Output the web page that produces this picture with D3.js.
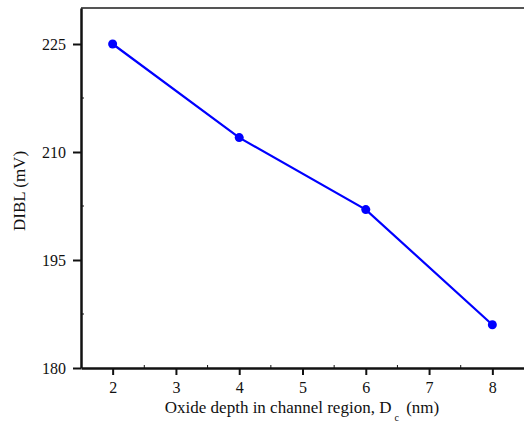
<!DOCTYPE html>
<html>
<head>
<meta charset="utf-8">
<script src="https://cdn.jsdelivr.net/npm/d3@7"></script>
<style>
  body { margin: 0; background: #fff; }
</style>
</head>
<body>
<div id="chart"></div>
<script>
var depth = [2, 4, 6, 8];
var dibl = [225, 212, 202, 186];
var xTicks = [2, 3, 4, 5, 6, 7, 8];
var yTicks = [180, 195, 210, 225];

var serif = "'Liberation Serif', 'Times New Roman', Times, 'DejaVu Serif', serif";

var width = 524, height = 426;
var margin = {top: 8, right: 0, bottom: 58, left: 81};

var svg = d3.select("#chart")
    .append("svg")
    .attr("width", width)
    .attr("height", height)
    .style("font-family", serif);

var x = d3.scaleLinear()
    .domain([1.5, 8.5])
    .range([margin.left, width - margin.right]);

var y = d3.scaleLinear()
    .domain([180, 230])
    .range([height - margin.bottom, margin.top]);

// top frame line
svg.append("line")
    .attr("x1", x(1.5)).attr("x2", width)
    .attr("y1", y(230)).attr("y2", y(230))
    .style("stroke", "#555")
    .style("stroke-width", 2);

// minor ticks (inward)
var minorX = d3.range(2.5, 8.5, 1);
svg.append("g")
    .selectAll("line")
    .data(minorX)
    .join("line")
        .attr("x1", d => x(d)).attr("x2", d => x(d))
        .attr("y1", y(180)).attr("y2", y(180) - 3)
        .style("stroke", "#111");

var minorY = [187.5, 202.5, 217.5];
svg.append("g")
    .selectAll("line")
    .data(minorY)
    .join("line")
        .attr("x1", x(1.5)).attr("x2", x(1.5) + 3)
        .attr("y1", d => y(d)).attr("y2", d => y(d))
        .style("stroke", "#111");

// x axis
var xAxis = svg.append("g")
    .attr("transform", "translate(0," + y(180) + ")")
    .call(d3.axisBottom(x).tickValues(xTicks).tickFormat(d3.format("d"))
        .tickSize(7).tickPadding(7).tickSizeOuter(0));
xAxis.select(".domain").style("stroke-width", 2.5).attr("stroke", "#111");
xAxis.selectAll(".tick line").style("stroke-width", 2).attr("stroke", "#111");
xAxis.selectAll("text")
    .style("font-family", serif)
    .style("font-size", "16px")
    .attr("fill", "#111");

// y axis
var yAxis = svg.append("g")
    .attr("transform", "translate(" + x(1.5) + ",0)")
    .call(d3.axisLeft(y).tickValues(yTicks).tickFormat(d3.format("d"))
        .tickSize(8).tickPadding(7).tickSizeOuter(0));
yAxis.select(".domain").style("stroke-width", 2.5).attr("stroke", "#111");
yAxis.selectAll(".tick line").style("stroke-width", 2).attr("stroke", "#111");
yAxis.selectAll("text")
    .style("font-family", serif)
    .style("font-size", "16px")
    .attr("fill", "#111");

// series
var pts = depth.map((d, i) => ({x: d, y: dibl[i]}));

var line = d3.line()
    .x(d => x(d.x))
    .y(d => y(d.y));

svg.append("path")
    .datum(pts)
    .attr("d", line)
    .style("fill", "none")
    .style("stroke", "#0000ff")
    .style("stroke-width", 2.2);

svg.append("g")
    .selectAll("circle")
    .data(pts)
    .join("circle")
        .attr("cx", d => x(d.x))
        .attr("cy", d => y(d.y))
        .attr("r", 4.5)
        .attr("fill", "#0000ff");

// axis titles
var xt = svg.append("text")
    .attr("x", 302)
    .attr("y", 413)
    .attr("text-anchor", "middle")
    .style("font-family", serif)
    .style("font-size", "17px")
    .attr("fill", "#111");
xt.append("tspan").text("Oxide depth in channel region, D");
xt.append("tspan").text("c").attr("dx", 3).attr("dy", 8).style("font-size", "10px");
xt.append("tspan").text(" (nm)").attr("dx", 3).attr("dy", -8);

svg.append("text")
    .attr("transform", "translate(25,191) rotate(-90)")
    .attr("text-anchor", "middle")
    .style("font-family", serif)
    .style("font-size", "17px")
    .attr("fill", "#111")
    .text("DIBL (mV)");
</script>
</body>
</html>
